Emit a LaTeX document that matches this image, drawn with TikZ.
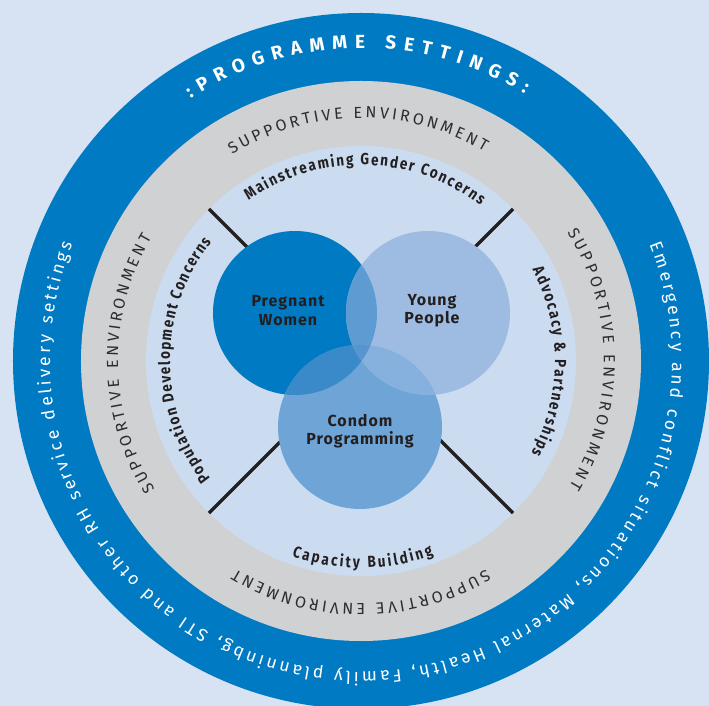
\documentclass[tikz,border=0pt]{standalone}
\usepackage{fontspec}
\setmainfont{Fira Sans}
\newfontfamily\vennfont[LetterSpace=6]{Fira Sans}
\newfontfamily\condfont[FakeStretch=0.84]{Fira Sans}
\usetikzlibrary{decorations.text}
\definecolor{bg}{RGB}{215,227,242}
\definecolor{ringblue}{RGB}{0,122,194}
\definecolor{ringgray}{RGB}{208,209,211}
\definecolor{disc}{RGB}{203,220,240}
\definecolor{pw}{RGB}{0,122,194}
\definecolor{yp}{RGB}{158,188,226}
\definecolor{cp}{RGB}{111,164,214}
\definecolor{pwyp}{RGB}{95,155,211}
\definecolor{pwcp}{RGB}{58,138,202}
\definecolor{ypcp}{RGB}{134,176,221}
\definecolor{allthree}{RGB}{88,148,205}
\definecolor{ink}{RGB}{35,31,32}
\definecolor{graytext}{RGB}{45,45,48}
\tikzset{
  spoke/.style={draw=ink, line width=3.5pt},
  vennlabel/.style={text=ink, align=center, font=\vennfont\bfseries\fontsize{16}{18.5}\selectfont},
}
\newcommand{\graylabel}{|\fontsize{16}{19}\selectfont\color{graytext}|SUPPORTIVE ENVIRONMENT}
\newcommand{\boldfmt}{\condfont\fontsize{16}{19}\selectfont\bfseries\color{ink}}
\begin{document}
\begin{tikzpicture}[x=1pt,y=1pt]
\useasboundingbox[fill=bg] (-361,-345) rectangle (348,361);
% rings
\fill[ringblue] (0,0) circle[radius=348];
\fill[ringgray] (0,0) circle[radius=280];
\fill[disc] (0,0) circle[radius=215];
% outer blue ring texts
\path[decorate, decoration={text along path, text align={fit to path},
  text={|\fontsize{19}{22}\selectfont\bfseries\color{white}|:PROGRAMME SETTINGS:}}]
  (123:313) arc[start angle=123, end angle=58.5, radius=313];
\path[decorate, decoration={text along path, text align={fit to path},
  text={|\fontsize{17.5}{20}\selectfont\color{white}|Emergency and conflict situations, Maternal Health, Family planninbg, STI and other RH service delivery settings}}]
  (22:311) arc[start angle=22, end angle=-202, radius=311];
% gray ring texts
\path[decorate, decoration={text along path, text align={fit to path}, text={\graylabel}}]
  (122:243) arc[start angle=122, end angle=59.5, radius=243];
\path[decorate, decoration={text along path, text align={fit to path}, text={\graylabel}}]
  (32:243) arc[start angle=32, end angle=-31, radius=243];
\path[decorate, decoration={text along path, text align={fit to path}, text={\graylabel}}]
  (-59:243) arc[start angle=-59, end angle=-121, radius=243];
\path[decorate, decoration={text along path, text align={fit to path}, text={\graylabel}}]
  (212:243) arc[start angle=212, end angle=149.5, radius=243];
% inner disc texts
\path[decorate, decoration={text along path, text align={fit to path},
  text={|\boldfmt|Mainstreaming Gender Concerns}}]
  (125:196) arc[start angle=125, end angle=52.5, radius=196];
\path[decorate, decoration={text along path, text align={fit to path},
  text={|\boldfmt|Advocacy {\&} Partnerships}}]
  (28:194) arc[start angle=28, end angle=-28.5, radius=194];
\path[decorate, decoration={text along path, text align={fit to path},
  text={|\boldfmt|Population Development Concerns}}]
  (218:191) arc[start angle=218, end angle=141.5, radius=191];
\path[decorate, decoration={text along path, text align={fit to path},
  text={|\boldfmt|Capacity Building}}]
  (-109.5:207) arc[start angle=-109.5, end angle=-69.5, radius=207];
% spokes
\coordinate (O) at (0,0);
\coordinate (tl) at (135:215);
\coordinate (tr) at (45:215);
\coordinate (bl) at (225:215);
\coordinate (br) at (-45:215);
\draw[spoke] (O) -- (tl);
\draw[spoke] (O) -- (tr);
\draw[spoke] (O) -- (bl);
\draw[spoke] (O) -- (br);
% venn circles
\fill[pw] (-66,48) circle[radius=82];
\fill[yp] (67,48) circle[radius=82];
\fill[cp] (-1,-66) circle[radius=82];
\begin{scope}
  \clip (-66,48) circle[radius=82];
  \fill[pwyp] (67,48) circle[radius=82];
  \fill[pwcp] (-1,-66) circle[radius=82];
\end{scope}
\begin{scope}
  \clip (67,48) circle[radius=82];
  \fill[ypcp] (-1,-66) circle[radius=82];
\end{scope}
\begin{scope}
  \clip (-66,48) circle[radius=82];
  \clip (67,48) circle[radius=82];
  \fill[allthree] (-1,-66) circle[radius=82];
\end{scope}
% labels
\node[vennlabel] (pwl) at (-73,50.5) {Pregnant\\Women};
\node[vennlabel] (ypl) at (71,50.5) {Young\\People};
\node[vennlabel] (cpl) at (-1,-70) {Condom\\Programming};
\end{tikzpicture}
\end{document}
